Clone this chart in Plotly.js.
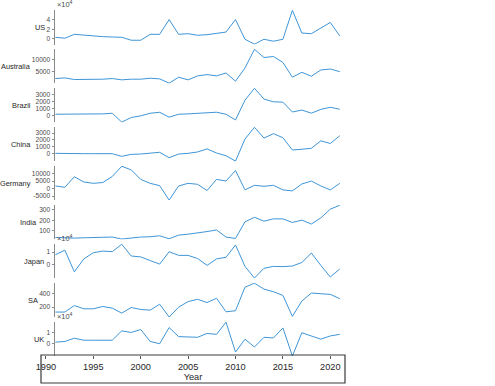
<!DOCTYPE html>
<html>
<head>
<meta charset="utf-8">
<script src="https://cdn.plot.ly/plotly-3.0.1.min.js"></script>
<style>html,body{margin:0;padding:0;background:#fff;}#chart{width:495px;height:386px;}</style>
</head>
<body>
<div id="chart"></div>
<script>
// ---- data ----
const years = [1991,1992,1993,1994,1995,1996,1997,1998,1999,2000,2001,2002,2003,2004,2005,2006,2007,2008,2009,2010,2011,2012,2013,2014,2015,2016,2017,2018,2019,2020,2021];
const countries = ['US','Australia','Brazil','China','Germany','India','Japan','SA','UK'];
const us = [3400,1400,9500,7500,5500,4700,4000,3400,-2700,-2700,9500,9500,40000,9500,10800,7500,8800,11500,14200,40000,-700,-10800,-700,-4700,-700,59000,12200,10800,22000,34000,6000];
const australia = [1940,2220,1530,1530,1670,1670,1940,1390,1670,1670,2080,1800,0,2500,1390,3060,3610,3060,4300,830,6390,14300,10830,11250,8750,2500,4580,2920,5560,5970,4860];
const brazil = [140,140,90,90,140,190,280,-990,-330,-90,280,420,-280,140,190,280,330,430,140,-680,2150,3860,2320,1920,1880,460,740,290,830,1140,860];
const china = [50,0,0,0,0,0,0,-390,-100,-50,100,200,-590,-50,50,250,690,100,-300,-1080,2120,3840,2270,2910,2320,540,640,790,1870,1480,2610];
const germany = [1740,870,7830,4350,3480,4000,8000,14780,12390,6090,3480,1960,-7610,1740,3480,2830,-1300,6090,5000,11960,-870,2170,1520,2170,-870,-1520,3040,5000,1740,-870,3480];
const india = [38,32,32,35,35,38,42,23,35,42,45,54,26,60,69,78,94,109,42,29,186,229,192,214,214,180,202,165,223,306,343];
const japan = [7900,11500,-5600,4600,9500,10800,10300,16200,6900,6200,3300,500,10300,7400,7400,4900,-500,4600,5900,15600,-1300,-10500,-2800,-1300,-1500,-1000,1800,9200,-500,-9700,-3300];
const sa = [129,129,224,176,176,210,186,114,195,167,157,243,57,200,281,314,267,329,133,148,490,548,462,424,371,67,290,405,395,386,324];
const uk = [1400,2000,4900,3100,3100,3100,3100,11400,10000,12600,2000,0,14300,6300,5700,5700,9100,8300,19100,-7400,4000,-2900,5700,5100,14000,-10900,9700,6900,4000,6900,8300];

// tick values / labels
const usTicks = [0,20000,40000];          const usTickText = ['0','2','4'];
const ausTicks = [5000,10000];            const ausTickText = ['5000','10000'];
const brazilTicks = [0,1000,2000,3000];   const brazilTickText = ['0','1000','2000','3000'];
const chinaTicks = [0,1000,2000,3000];    const chinaTickText = ['0','1000','2000','3000'];
const germanyTicks = [-5000,0,5000,10000];const germanyTickText = ['-5000','0','5000','10000'];
const indiaTicks = [100,200,300];         const indiaTickText = ['100','200','300'];
const japanTicks = [0,10000];             const japanTickText = ['0','1'];
const saTicks = [200,400];                const saTickText = ['200','400'];
const ukTicks = [0,10000];                const ukTickText = ['0','1'];
const yearTicks = [1990,1995,2000,2005,2010,2015,2020];
const exponentLabel = '\u00d710<sup>4</sup>';
const xTitle = 'Year';

const series = [us,australia,brazil,china,germany,india,japan,sa,uk];
const tickVals = [usTicks,ausTicks,brazilTicks,chinaTicks,germanyTicks,indiaTicks,japanTicks,saTicks,ukTicks];
const tickTexts = [usTickText,ausTickText,brazilTickText,chinaTickText,germanyTickText,indiaTickText,japanTickText,saTickText,ukTickText];
const hasExponent = [true,false,false,false,false,false,true,false,true];

// ---- layout geometry (pixels) ----
const W = 495, H = 386;
const L = 41, R = 345;            // paper extent in px
const PW = R - L;
const panelLeft = 55;
const top0 = 10, step = 38.98, ph = 34.5;
const labelRight = [46.7, 32.5, 33, 33, 32.5, 39, 46, 40, 46];
const boxTop = 355, boxBottom = 383;
const panelRange = [1990.96, 2021.55];
const bottomRange = [1989.48, 2021.55];

const FONT = 'Liberation Sans, Arial, Helvetica, sans-serif';
const traces = [];
const layout = {
  width: W, height: H,
  margin: {l: L, r: W - R, t: 0, b: 0, pad: 0},
  paper_bgcolor: '#fff', plot_bgcolor: 'rgba(0,0,0,0)',
  showlegend: false,
  font: {family: FONT, color: '#404040'},
  annotations: [], shapes: []
};

for (let k = 0; k < series.length; k++) {
  const n = k + 1;
  const top = top0 + step * k, bot = top + ph;
  const ydom = [1 - bot / H, 1 - top / H];
  const vals = series[k];
  const mn = Math.min(...vals), mx = Math.max(...vals);
  const pad = (mx - mn) * 0.01;
  traces.push({
    x: years, y: vals, type: 'scatter', mode: 'lines',
    xaxis: 'x' + n, yaxis: 'y' + n,
    line: {color: '#3f95d6', width: 1},
    hoverinfo: 'skip'
  });
  layout['xaxis' + n] = {
    domain: [(panelLeft - L) / PW, 1], range: panelRange, anchor: 'y' + n,
    visible: false, fixedrange: true
  };
  layout['yaxis' + n] = {
    domain: ydom, range: [mn - pad, mx + pad], anchor: 'x' + n,
    showline: true, linecolor: '#8a8a8a', linewidth: 1,
    ticks: 'outside', ticklen: 2.5, tickcolor: '#8a8a8a', tickwidth: 1,
    tickvals: tickVals[k], ticktext: tickTexts[k],
    tickfont: {family: FONT, size: 6.6, color: '#4a4a4a'},
    showgrid: false, zeroline: false, automargin: false, fixedrange: true
  };
  layout.annotations.push({
    text: countries[k], xref: 'paper', yref: 'paper',
    x: (labelRight[k] - L) / PW, y: 1 - (top + ph / 2) / H,
    xanchor: 'right', yanchor: 'middle', showarrow: false,
    font: {family: FONT, size: 7.4, color: '#262626'}
  });
  if (hasExponent[k]) {
    layout.annotations.push({
      text: exponentLabel, xref: 'paper', yref: 'paper',
      x: (panelLeft - L) / PW, y: 1 - (top + 1.5) / H,
      xanchor: 'left', yanchor: 'bottom', showarrow: false,
      font: {family: FONT, size: 7.4, color: '#4a4a4a'}
    });
  }
}

// bottom time axis inside a framed box
layout.yaxis10 = {domain: [1 - boxBottom / H, 1 - boxTop / H], visible: false, range: [0, 1], fixedrange: true};
layout.xaxis10 = {
  domain: [0, 1], range: bottomRange, anchor: 'free', position: 1 - boxTop / H,
  tickvals: yearTicks, ticktext: yearTicks.map(String),
  ticks: 'outside', ticklen: 3, tickcolor: '#555', tickwidth: 1,
  showline: false, showgrid: false, zeroline: false,
  tickfont: {family: FONT, size: 9.2, color: '#262626'},
  title: {text: xTitle, font: {family: FONT, size: 9.2, color: '#262626'}, standoff: 1},
  automargin: false, fixedrange: true
};
traces.push({x: [], y: [], type: 'scatter', xaxis: 'x10', yaxis: 'y10', hoverinfo: 'skip'});
layout.shapes.push({
  type: 'rect', xref: 'paper', yref: 'paper',
  x0: 0, x1: 1, y0: 1 - boxBottom / H, y1: 1 - boxTop / H,
  line: {color: '#3a3a3a', width: 1.2}, fillcolor: 'rgba(0,0,0,0)'
});

Plotly.newPlot('chart', traces, layout, {staticPlot: true, displayModeBar: false});
</script>
</body>
</html>
